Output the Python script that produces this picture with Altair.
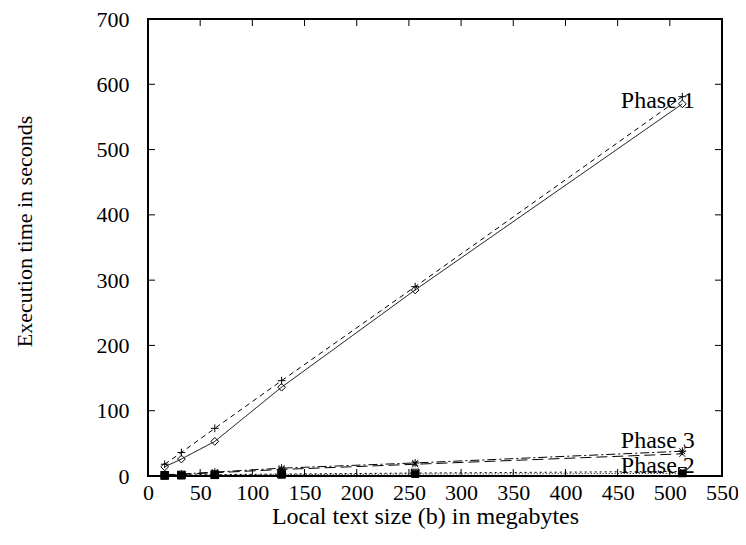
import altair as alt
import pandas as pd

# ---- data ----
sizes = [16, 32, 64, 128, 256, 512]
phase1_a = [14, 26, 53, 136, 285, 570]
phase1_b = [18, 36, 73, 146, 290, 581]
phase3_a = [2, 3, 6, 12, 20, 38]
phase3_b = [1.5, 2.5, 5, 10, 18, 34]
phase2_a = [1, 1.5, 2, 3, 4.5, 7]
phase2_b = [0.5, 1, 1.5, 2, 3, 4]

x_ticks = [0, 50, 100, 150, 200, 250, 300, 350, 400, 450, 500, 550]
y_ticks = [0, 100, 200, 300, 400, 500, 600, 700]

label_text = ["Phase 1", "Phase 3", "Phase 2"]
label_x = [524, 524, 524]
label_y = [575, 54, 16]

W, H = 574, 457
FONT = "Liberation Serif"

PLUS = "M-1,0L1,0M0,-1L0,1"
XMARK = "M-0.8,-0.8L0.8,0.8M-0.8,0.8L0.8,-0.8"
ASTER = "M-1,0L1,0M0,-1L0,1M-0.75,-0.75L0.75,0.75M-0.75,0.75L0.75,-0.75"
BOXX = "M-1,-1L1,-1L1,1L-1,1ZM-1,-1L1,1M-1,1L1,-1"

series = [
    (phase1_a, [1, 0], "diamond", False),
    (phase1_b, [5, 4], PLUS, False),
    (phase3_a, [9, 3, 2, 3], ASTER, False),
    (phase3_b, [11, 5], XMARK, False),
    (phase2_a, [2, 3], BOXX, False),
    (phase2_b, [1, 2], "square", True),
]

xs = alt.Scale(domain=[0, 550], nice=False, zero=False)
ys = alt.Scale(domain=[0, 700], nice=False)

x_axis = alt.Axis(values=x_ticks, ticks=False, domain=False, grid=False,
                  labelFont=FONT, labelFontSize=22, labelColor="black",
                  labelPadding=6, titleFont=FONT, titleFontSize=24,
                  titleFontWeight="normal", titleColor="black",
                  titlePadding=1, labelFlush=False, titleX=277, titleAlign="center")
y_axis = alt.Axis(values=y_ticks, ticks=False, domain=False, grid=False,
                  labelFont=FONT, labelFontSize=22, labelColor="black",
                  labelPadding=19, titleFont=FONT, titleFontSize=22,
                  titleFontWeight="normal", titleColor="black",
                  titlePadding=60, labelFlush=False, titleY=212, titleAlign="center")
X_TITLE = "Local text size (b) in megabytes"
Y_TITLE = "Execution time in seconds"


def ex(field):
    return alt.X(f"{field}:Q", scale=xs, axis=x_axis, title=X_TITLE)


def ey(field):
    return alt.Y(f"{field}:Q", scale=ys, axis=y_axis, title=Y_TITLE)


layers = []
for vals, dash, shape, filled in series:
    df = pd.DataFrame({"x": sizes, "y": vals})
    base = alt.Chart(df)
    line = base.mark_line(color="black", strokeWidth=1, strokeDash=dash).encode(
        x=ex("x"), y=ey("y"))
    pts = base.mark_point(shape=shape, filled=filled, color="black", size=60,
                          strokeWidth=1, opacity=1).encode(x=ex("x"), y=ey("y"))
    layers += [line, pts]

# inward tick marks (gnuplot style, mirrored)
xt = pd.DataFrame({"x": x_ticks})
yt = pd.DataFrame({"y": y_ticks})
tick_style = dict(color="black", strokeWidth=1)
layers.append(alt.Chart(xt).mark_rule(**tick_style).encode(
    x=ex("x"), y=alt.value(H), y2=alt.value(H - 7)))
layers.append(alt.Chart(xt).mark_rule(**tick_style).encode(
    x=ex("x"), y=alt.value(0), y2=alt.value(7)))
layers.append(alt.Chart(yt).mark_rule(**tick_style).encode(
    y=ey("y"), x=alt.value(0), x2=alt.value(7)))
layers.append(alt.Chart(yt).mark_rule(**tick_style).encode(
    y=ey("y"), x=alt.value(W), x2=alt.value(W - 7)))

lab = pd.DataFrame({"text": label_text, "x": label_x, "y": label_y})
layers.append(alt.Chart(lab).mark_text(font=FONT, fontSize=24, align="right",
                                       baseline="middle", color="black").encode(
    x=ex("x"), y=ey("y"), text="text:N"))

chart = alt.layer(*layers).properties(
    width=W, height=H,
    autosize=alt.AutoSizeParams(type="none"),
    padding={"left": 140, "top": 11, "right": 16, "bottom": 62},
).configure_view(stroke="black", strokeWidth=2)

chart.save("out.html", embed_options={"renderer": "svg", "actions": False})
